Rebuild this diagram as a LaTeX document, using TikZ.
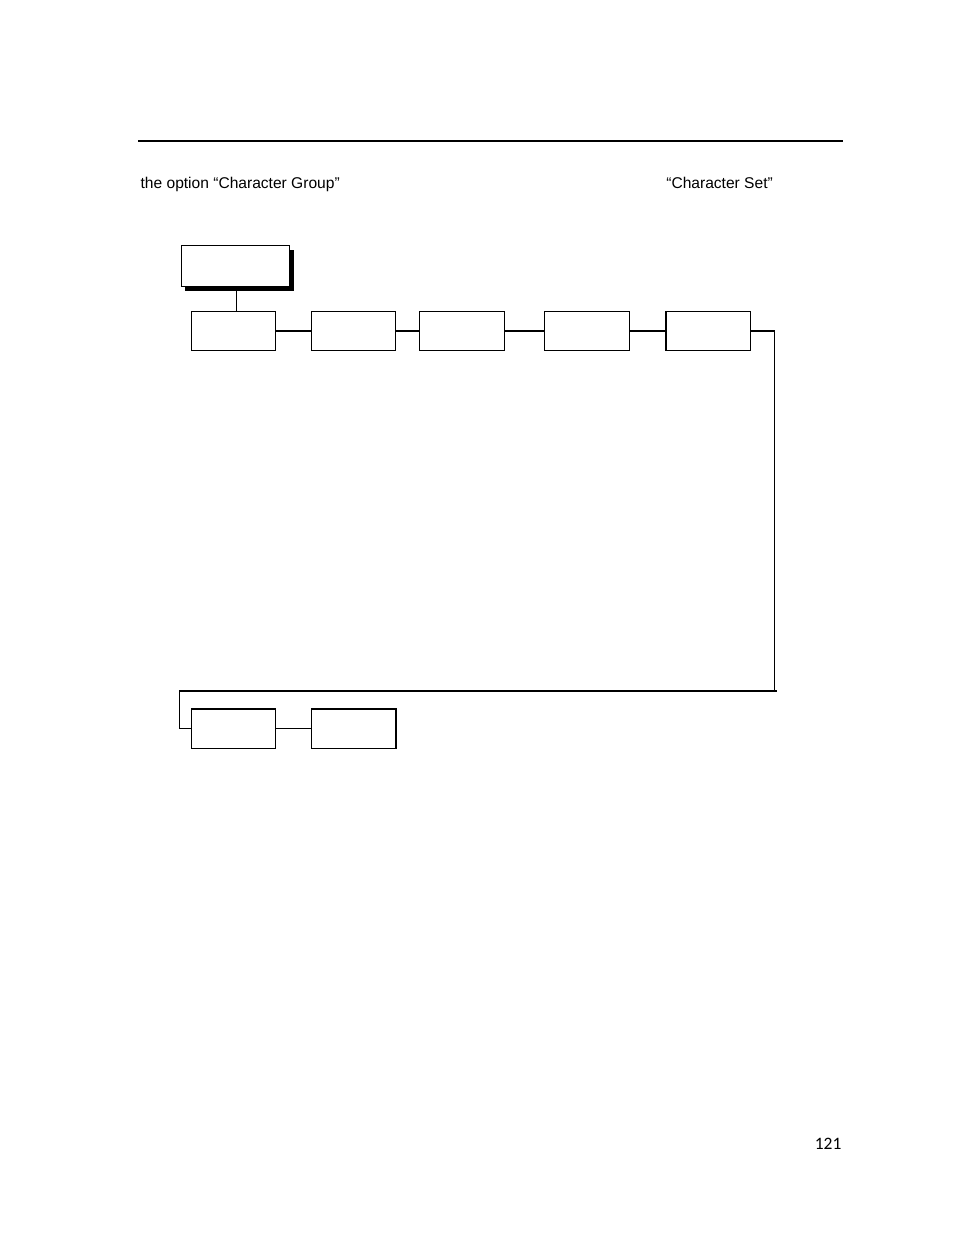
\documentclass[tikz,border=0pt]{standalone}
\usepackage{fontspec}
\setmainfont{Liberation Sans}
\newfontfamily\pagefont{Carlito}
\begin{document}
\begin{tikzpicture}[x=0.75pt,y=-0.75pt,
  line width=0.95pt,
  menubox/.style={draw=black,fill=white,line width=0.95pt,inner sep=0pt,minimum width=63.4pt,minimum height=29.6pt},
  topbox/.style={draw=black,fill=white,line width=0.95pt,inner sep=0pt,minimum width=81pt,minimum height=30.75pt},
  link/.style={draw=black,line width=0.9pt},
  txt/.style={anchor=base west,inner sep=0pt,font=\fontsize{11.68pt}{14pt}\selectfont}]
\useasboundingbox (0,0) rectangle (954,1235);
% header rule
\draw[line width=1.5pt] (138,141) -- (843,141);
% texts
\node[txt] (t1) at (140,188.5) {the option “Character Group”};
\node[txt] (t2) at (665.7,188.5) {“Character Set”};
\node[anchor=base east,inner sep=0pt,font=\pagefont\fontsize{13.1pt}{15pt}\selectfont] (pg) at (842,1149) {121};
% top box with shadow
\fill[black] (185,249.7) rectangle (293.7,290.7);
\node[topbox] (top) at (235.3,265.8) {};
% first row
\node[menubox] (b1) at (233.5,331) {};
\node[menubox] (b2) at (353.5,331) {};
\node[menubox] (b3) at (462,331) {};
\node[menubox] (b4) at (587,331) {};
\node[menubox] (b5) at (708.3,331) {};
% second row
\node[menubox] (c1) at (233.5,728.8) {};
\node[menubox] (c2) at (353.8,728.8) {};
% routing points
\coordinate (r1) at (774.3,691);
\coordinate (r2) at (179.3,691);
\coordinate (r3) at (776.7,691);
% connectors
\draw[link] (236.3,286.3) -- (236.3,311.3);
\draw[link] (b1.east) -- (b2.west);
\draw[link] (b2.east) -- (b3.west);
\draw[link] (b3.east) -- (b4.west);
\draw[link] (b4.east) -- (b5.west);
\draw[link] (b5.east) -| (r1);
\draw[link] (r3) -- (r2) |- (c1.west);
\draw[link] (c1.east) -- (c2.west);
\end{tikzpicture}
\end{document}
